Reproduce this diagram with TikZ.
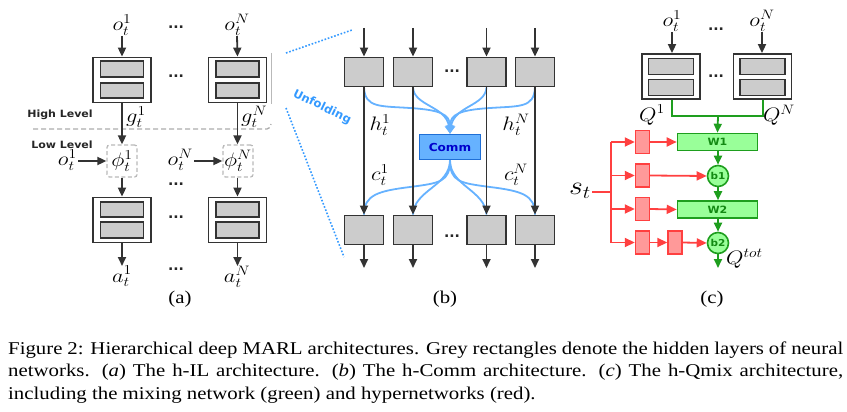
\RequirePackage{fix-cm}
\documentclass[tikz,border=0pt]{standalone}
\usepackage{fontspec}
\usepackage{graphicx}
\usetikzlibrary{arrows.meta,calc}
\newfontfamily\dvs{DejaVu Sans}
\newfontfamily\tms{Liberation Serif}
\definecolor{dk}{HTML}{333333}
\definecolor{gf}{HTML}{CCCCCC}
\definecolor{bl}{HTML}{66B2FF}
\definecolor{bld}{HTML}{1F6FD6}
\definecolor{blt}{HTML}{0000CC}
\definecolor{dotb}{HTML}{3399FF}
\definecolor{gfill}{HTML}{99FF99}
\definecolor{gdr}{HTML}{1E9E1E}
\definecolor{gtx}{HTML}{138A13}
\definecolor{rl}{HTML}{FF4040}
\definecolor{rfill}{HTML}{FF9999}
\newcommand{\ml}[1]{\scalebox{1.15}[1]{$#1$}}
\newcommand{\sfl}[1]{\scalebox{1.1}[1]{#1}}
\newcommand{\capline}[1]{\scalebox{1.157}[1]{\makebox[721.7pt][s]{#1}}}
\newcommand{\capfree}[1]{\scalebox{1.157}[1]{#1}}
\tikzset{
  lab/.style={inner sep=0pt, font=\fontsize{19.5}{22}\selectfont},
  dotsl/.style={inner sep=0pt, text=black!85, font=\dvs\bfseries\fontsize{14}{16}\selectfont},
  arr/.style={draw=dk, line width=1.8pt, -{Triangle[length=9pt,width=8pt]}},
  outerbox/.style={draw=dk, line width=1.8pt, fill=white, minimum width=58pt, minimum height=45pt, inner sep=0pt},
  innerbox/.style={draw=dk, line width=1.8pt, fill=gf, minimum width=43pt, minimum height=15.5pt, inner sep=0pt},
  phibox/.style={draw=gray!55, dash pattern=on 4pt off 2.5pt, line width=1.3pt, rounded corners=2.5pt, minimum width=30pt, minimum height=32pt, inner sep=0pt, font=\fontsize{19.5}{22}\selectfont},
  levtxt/.style={inner sep=0pt, text=black!85, font=\dvs\bfseries\fontsize{10}{12}\selectfont},
  gbox/.style={draw=dk, line width=1.8pt, fill=gf, minimum width=39pt, minimum height=29pt, inner sep=0pt},
  bcurve/.style={draw=bl, line width=1.8pt},
  bcurvearr/.style={draw=bl, line width=1.8pt, -{Triangle[length=8pt,width=8pt]}},
  commbox/.style={draw=bld, line width=1.5pt, fill=bl, minimum width=61pt, minimum height=25pt, inner sep=0pt, text=blt, font=\dvs\bfseries\fontsize{11}{13}\selectfont},
  dotline/.style={draw=dotb, line width=1.6pt, dash pattern=on 1.6pt off 1.8pt},
  wbox/.style={draw=gdr, line width=1.6pt, fill=gfill, minimum width=80pt, minimum height=17pt, inner sep=0pt, text=gtx, font=\dvs\bfseries\fontsize{10}{12}\selectfont},
  bcirc/.style={circle, draw=gdr, line width=1.6pt, fill=gfill, minimum size=21pt, inner sep=0pt, text=gtx, font=\dvs\bfseries\fontsize{9.5}{11}\selectfont},
  gline/.style={draw=gdr, line width=1.8pt},
  garr/.style={draw=gdr, line width=1.8pt, -{Triangle[length=9pt,width=8pt]}},
  rline/.style={draw=rl, line width=1.8pt},
  rarr/.style={draw=rl, line width=1.8pt, -{Triangle[length=10pt,width=9pt]}},
  rbox/.style={draw=rl, line width=1.4pt, fill=rfill, minimum width=14pt, minimum height=23pt, inner sep=0pt},
  captxt/.style={inner sep=0pt, anchor=base west, font=\tms\fontsize{18}{22}\selectfont},
  sublab/.style={inner sep=0pt, font=\tms\fontsize{18}{22}\selectfont},
}
\begin{document}
\begin{tikzpicture}[x=1pt,y=-1pt]
\useasboundingbox (0,0) rectangle (847,412);

% ================= Panel (a) =================
\node[lab, anchor=south] (oa1) at (122,36) {\ml{o_t^1}};
\node[lab, anchor=south] (oaN) at (237,36) {\ml{o_t^N}};
\node[dotsl] (da1) at (176,27) {...};

\node[outerbox] (A1) at (122,80) {};
\node[innerbox] (A1a) at (122,69) {};
\node[innerbox] (A1b) at (122,90.5) {};
\node[outerbox] (AN) at (237.5,80) {};
\node[innerbox] (ANa) at (237.5,69) {};
\node[innerbox] (ANb) at (237.5,90.5) {};
\node[dotsl] (da2) at (176,76) {...};

\draw[arr] (oa1.south) -- (A1.north);
\draw[arr] (oaN.south) -- (AN.north);

\coordinate (gl1) at (271,53);
\coordinate (gl2) at (271,104);
\draw[gray!55, line width=0.8pt] (gl1) -- (gl2);
\coordinate (dl1) at (33,129);
\coordinate (dl2) at (271,124);
\draw[gray!65, line width=1.3pt, dash pattern=on 5pt off 3pt] (dl1) -- ++(234,0) to[out=0,in=-90] (dl2);

\node[levtxt] (hl) at (60,115) {\sfl{High Level}};
\node[levtxt] (ll) at (62,145) {\sfl{Low Level}};

\node[phibox] (P1) at (122,161) {\ml{\phi_t^1}};
\node[phibox] (PN) at (238,161) {\ml{\phi_t^N}};

\draw[arr] (A1.south) -- (P1.north);
\draw[arr] (AN.south) -- (AN.south |- PN.north);
\node[lab, anchor=west] (g1) at (126,117) {\ml{g_t^1}};
\node[lab, anchor=west] (gN) at (241,117) {\ml{g_t^N}};

\node[lab, anchor=east] (ol1) at (77,160) {\ml{o_t^1}};
\node[lab, anchor=east] (olN) at (193,160) {\ml{o_t^N}};
\draw[arr] (ol1.east) ++(1,1) -- (P1.west);
\draw[arr] (olN.east) ++(1,1) -- (PN.west);
\node[dotsl] (da3) at (176,184) {...};

\node[outerbox] (B1) at (122,220) {};
\node[innerbox] (B1a) at (122,209.5) {};
\node[innerbox] (B1b) at (122,230) {};
\node[outerbox] (BN) at (237.5,220) {};
\node[innerbox] (BNa) at (237.5,209.5) {};
\node[innerbox] (BNb) at (237.5,230) {};
\node[dotsl] (da4) at (176,217) {...};

\draw[arr] (P1.south) -- (B1.north);
\draw[arr] (PN.south -| BN.north) -- (BN.north);

\node[lab, anchor=north] (aa1) at (122,266) {\ml{a_t^1}};
\node[lab, anchor=north] (aaN) at (237,266) {\ml{a_t^N}};
\node[dotsl] (da5) at (176,269) {...};
\draw[arr] (B1.south) -- (aa1.north);
\draw[arr] (BN.south) -- (BN.south |- aaN.north);

\node[sublab] (capa) at (180,299) {\capfree{(a)}};

% ================= Panel (b) =================
\coordinate (u1a) at (286,53);
\coordinate (u1b) at (352,30);
\coordinate (u2a) at (286,108);
\coordinate (u2b) at (344,257);
\draw[dotline] (u1a) -- (u1b);
\draw[dotline] (u2a) -- (u2b);
\node[inner sep=0pt, text=dotb, rotate=-26, font=\dvs\bfseries\fontsize{11.5}{13}\selectfont] (unf) at (322,107) {Unfolding};

\foreach \i/\x in {1/364,2/413,3/486.5,4/535}{
  \coordinate (in\i) at (\x,28);
  \coordinate (out\i) at (\x,268);
  \node[gbox] (tb\i) at (\x,72) {};
  \node[gbox] (bb\i) at (\x,230) {};
}
\node[dotsl] (db1) at (452,71) {...};
\node[dotsl] (db2) at (452,236) {...};

\node[commbox] (comm) at (450,147) {\sfl{Comm}};

% blue curves (upper)
\draw[bcurvearr] (tb1.south) .. controls (365,108) and (380,106) .. (410,108) .. controls (440,110) and (450,114) .. (comm.north);
\draw[bcurvearr] (tb2.south) .. controls (414,106) and (446,106) .. (comm.north);
\draw[bcurvearr] (tb3.south) .. controls (485.5,106) and (454,106) .. (comm.north);
\draw[bcurvearr] (tb4.south) .. controls (534,108) and (520,106) .. (490,108) .. controls (460,110) and (450,114) .. (comm.north);
% blue curves (lower)
\draw[bcurve] (comm.south) .. controls (450,182) and (440,183) .. (410,187) .. controls (378,191) and (364,195) .. (bb1.north);
\draw[bcurve] (comm.south) .. controls (450,186) and (414,190) .. (bb2.north);
\draw[bcurve] (comm.south) .. controls (450,186) and (485,190) .. (bb3.north);
\draw[bcurve] (comm.south) .. controls (450,182) and (460,183) .. (490,187) .. controls (522,191) and (535,195) .. (bb4.north);

\foreach \i in {1,2,3,4}{
  \draw[arr] (in\i) -- (tb\i.north);
  \draw[arr] (tb\i.south) -- (bb\i.north);
  \draw[arr] (bb\i.south) -- (out\i);
}
\node[lab] (h1) at (380,125) {\ml{h_t^1}};
\node[lab] (hN) at (516,125) {\ml{h_t^N}};
\node[lab] (c1) at (380,175) {\ml{c_t^1}};
\node[lab] (cN) at (516,175) {\ml{c_t^N}};

\node[sublab] (capb) at (445,299) {\capfree{(b)}};

% ================= Panel (c) =================
\node[lab, anchor=south] (oc1) at (672,32) {\ml{o_t^1}};
\node[lab, anchor=south] (ocN) at (762,32) {\ml{o_t^N}};
\node[dotsl] (dc1) at (716,29) {...};

\node[outerbox] (C1) at (671,76.5) {};
\node[innerbox, minimum width=45pt, minimum height=16pt] (C1a) at (671,66.5) {};
\node[innerbox, minimum width=45pt, minimum height=16pt] (C1b) at (671,87.5) {};
\node[outerbox] (CN) at (762.5,76.5) {};
\node[innerbox, minimum width=45pt, minimum height=16pt] (CNa) at (762.5,66.5) {};
\node[innerbox, minimum width=45pt, minimum height=16pt] (CNb) at (762.5,87.5) {};
\node[dotsl] (dc2) at (716,76) {...};
\draw[arr] (oc1.south) -- (oc1.south |- C1.north);
\draw[arr] (ocN.south) -- (ocN.south |- CN.north);

\node[lab] (q1) at (652,115) {\ml{Q^1}};
\node[lab] (qN) at (779,115) {\ml{Q^N}};

\node[wbox] (W1) at (717.5,142) {\sfl{W1}};
\node[bcirc] (b1) at (718,176) {\sfl{b1}};
\node[wbox] (W2) at (717.5,209.5) {\sfl{W2}};
\node[bcirc] (b2) at (718,243) {\sfl{b2}};

\coordinate (gm) at (718,116);
\draw[gline] ($(C1.south)+(1,0)$) |- (gm) -| ($(CN.south)+(0.5,0)$);
\draw[garr] (gm) -- (W1.north);
\draw[garr] (W1.south -| b1.north) -- (b1.north);
\draw[garr] (b1.south) -- (b1.south |- W2.north);
\draw[garr] (W2.south -| b2.north) -- (b2.north);
\coordinate (qo) at (718,268);
\draw[garr] (b2.south) -- (qo);
\node[lab, anchor=west] (qt) at (726,259) {\ml{Q^{tot}}};

\node[inner sep=0pt, font=\fontsize{26}{28}\selectfont] (st) at (580,191) {\ml{s_t}};
\coordinate (sj) at (611,192);
\coordinate (r1) at (611,142);
\coordinate (r2) at (611,175.5);
\coordinate (r3) at (611,209);
\coordinate (r4) at (611,242.5);
\draw[rline] (st.east |- sj) ++(1,0) -- (sj);
\draw[rline] (r1) -- (r4);

\node[rbox] (R1) at (642.5,142) {};
\node[rbox] (R2) at (642.5,175.5) {};
\node[rbox] (R3) at (642.5,209) {};
\node[rbox] (R4) at (642.5,242.5) {};
\node[rbox] (R5) at (675,242.5) {};

\draw[rarr] (r1) -- (R1.west);
\draw[rarr] (r2) -- (R2.west);
\draw[rarr] (r3) -- (R3.west);
\draw[rarr] (r4) -- (R4.west);
\draw[rarr] (R1.east) -- (W1.west);
\draw[rarr] (R2.east) -- (b1.west);
\draw[rarr] (R3.east) -- (W2.west);
\draw[rarr] (R4.east) -- (R5.west);
\draw[rarr] (R5.east) -- (b2.west);

\node[sublab] (capc) at (712,299) {\capfree{(c)}};

% ================= Caption =================
\node[captxt] (cap1) at (8,354) {\capline{Figure 2: Hierarchical deep MARL architectures. Grey rectangles denote the hidden layers of neural}};
\node[captxt] (cap2) at (8,376.5) {\capline{networks. (\textit{a}) The h-IL architecture. (\textit{b}) The h-Comm architecture. (\textit{c}) The h-Qmix architecture,}};
\node[captxt] (cap3) at (8,399) {\capfree{including the mixing network (green) and hypernetworks (red).}};
\end{tikzpicture}
\end{document}
